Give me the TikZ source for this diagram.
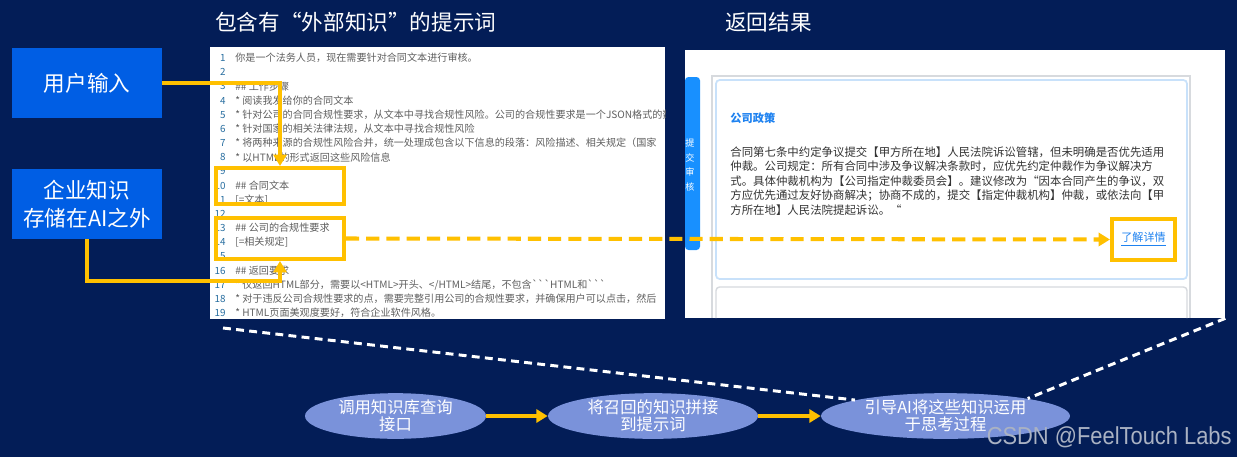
\documentclass[tikz,border=0pt]{standalone}
\usepackage{fontspec}
\newfontfamily\cjk{Noto Sans CJK SC}
\newfontfamily\wmfont[FakeStretch=0.89]{Liberation Sans}
\usetikzlibrary{arrows.meta,shapes.geometric}

\definecolor{bgnavy}{RGB}{3,29,87}
\definecolor{boxblue}{RGB}{0,94,228}
\definecolor{hiyellow}{RGB}{255,192,0}
\definecolor{ovalblue}{RGB}{122,146,218}
\definecolor{tabblue}{RGB}{24,144,255}
\definecolor{codegray}{RGB}{95,95,95}
\definecolor{numteal}{RGB}{40,110,160}
\definecolor{linkblue}{RGB}{30,130,240}
\definecolor{cardedge}{RGB}{200,225,250}
\definecolor{framegray}{RGB}{215,218,222}
\definecolor{wmgray}{RGB}{170,178,195}

\tikzset{
  srcbox/.style={fill=boxblue, text=white, minimum width=3cm, minimum height=1.4cm,
    inner sep=0pt, align=center, font=\cjk\fontsize{12.3}{15.9}\selectfont},
  hilite/.style={draw=hiyellow, line width=2.3pt, inner sep=0pt},
  feed/.style={draw=hiyellow, line width=2.3pt, -{Triangle[length=6.5pt,width=7.5pt]}},
  stepoval/.style={ellipse, fill=ovalblue, text=white, minimum height=0.84cm,
    inner sep=0pt, align=center, font=\cjk\fontsize{9.3}{9.8}\selectfont},
  codeline/.style={anchor=west, inner sep=0pt, text=codegray, font=\cjk\fontsize{5.75}{6}\selectfont},
  lineno/.style={anchor=east, inner sep=0pt, text=numteal, font=\cjk\fontsize{5.6}{6}\selectfont},
  cardline/.style={anchor=west, inner sep=0pt, text=black!80, font=\cjk\fontsize{6.5}{7}\selectfont},
  heading/.style={anchor=west, inner sep=0pt, text=white, font=\cjk\fontsize{12.3}{14}\selectfont},
}

\begin{document}
\begin{tikzpicture}[x=0.02cm,y=-0.02cm]

\useasboundingbox (0,0) rectangle (1237,457);
\fill[bgnavy] (0,0) rectangle (1237,457);

% titles
\node[heading] (ttlprompt) at (215,22) {包含有“外部知识”的提示词};
\node[heading] (ttlresult) at (725,22) {返回结果};

% sources on the left
\node[srcbox] (user) at (87,83) {用户输入};
\node[srcbox] (know) at (87,204) {企业知识\\存储在AI之外};

% prompt editor
\node[fill=white, minimum width=9.1cm, minimum height=5.44cm, inner sep=0pt] (prompt) at (437.5,183) {};
\begin{scope}
\clip (210,47) rectangle (665,319);
\foreach \n in {1,...,19}
  \node[lineno] at (226,{58+(\n-1)*14.17}) {\n};
\foreach \n/\txt in {
  1/{你是一个法务人员，现在需要针对合同文本进行审核。},
  3/{\#\# 工作步骤},
  4/{* 阅读我发给你的合同文本},
  5/{* 针对公司的合同合规性要求，从文本中寻找合规性风险。公司的合规性要求是一个JSON格式的数据},
  6/{* 针对国家的相关法律法规，从文本中寻找合规性风险},
  7/{* 将两种来源的合规性风险合并，统一处理成包含以下信息的段落：风险描述、相关规定（国家},
  8/{* 以HTML的形式返回这些风险信息},
  10/{\#\# 合同文本},
  11/{[=文本]},
  13/{\#\# 公司的合规性要求},
  14/{[=相关规定]},
  16/{\#\# 返回要求},
  17/{* 仅返回HTML部分，需要以<HTML>开头、</HTML>结尾，不包含\textasciigrave\textasciigrave\textasciigrave HTML和\textasciigrave\textasciigrave\textasciigrave},
  18/{* 对于违反公司合规性要求的点，需要完整引用公司的合规性要求，并确保用户可以点击，然后},
  19/{* HTML页面美观度要好，符合企业软件风格。}}
  \node[codeline] at (235,{58+(\n-1)*14.17}) {\txt};
\end{scope}

\node[hilite, minimum width=2.56cm, minimum height=0.72cm] (ctxbox) at (280,186) {};
\node[hilite, minimum width=2.56cm, minimum height=0.82cm] (rulebox) at (280,238.5) {};

% returned result
\node[fill=white, minimum width=10.8cm, minimum height=5.36cm, inner sep=0pt] (answer) at (955,184) {};
\fill[tabblue, rounded corners=2pt] (685,77) rectangle (700,250);
\node[text=white, align=center, inner sep=0pt, font=\cjk\fontsize{5.2}{8.5}\selectfont] (submit) at (690,165) {提\\交\\审\\核};
\draw[framegray, line width=0.6pt] (712,318) -- (712,76) -- (1190,76) -- (1190,318);
\node[draw=cardedge, line width=1pt, fill=white, rounded corners=2pt, minimum width=9.42cm,
  minimum height=3.98cm, inner sep=0pt] (policy) at (951.5,179.5) {};
\draw[framegray, line width=0.8pt, rounded corners=2pt] (716,318) -- (716,287) -- (1187,287) -- (1187,318);
\node[anchor=west, inner sep=0pt, text=linkblue, font=\cjk\bfseries\fontsize{6.4}{7}\selectfont] (policyttl) at (730,118) {公司政策};
\foreach \i/\txt in {
  1/{合同第七条中约定争议提交【甲方所在地】人民法院诉讼管辖，但未明确是否优先适用},
  2/{仲裁。公司规定：所有合同中涉及争议解决条款时，应优先约定仲裁作为争议解决方},
  3/{式。具体仲裁机构为【公司指定仲裁委员会】。建议修改为“因本合同产生的争议，双},
  4/{方应优先通过友好协商解决；协商不成的，提交【指定仲裁机构】仲裁，或依法向【甲},
  5/{方所在地】人民法院提起诉讼。“}}
  \node[cardline] at (730,{152+(\i-1)*14.5}) {\txt};
\node[hilite, minimum width=1.26cm, minimum height=0.82cm, text=linkblue,
  font=\cjk\fontsize{6.3}{7}\selectfont] (more) at (1143.5,239.5) {\underline{了解详情}};

% yellow connectors
\coordinate (kbend) at (280,281);
\draw[feed] (user.east) -| (ctxbox.north);
\draw[feed] (know.south) |- (kbend) -- (rulebox.south);
\draw[feed, dash pattern=on 7.5pt off 4pt] (rulebox.east) -- (more.west);

% steps below
\node[stepoval, minimum width=3.62cm] (recall) at (395.5,416) {调用知识库查询\\接口};
\node[stepoval, minimum width=4.2cm] (splice) at (653,416) {将召回的知识拼接\\到提示词};
\node[stepoval, minimum width=4.98cm] (guide) at (945.5,416) {引导AI将这些知识运用\\于思考过程};
\draw[feed] (recall) -- (splice);
\draw[feed] (splice) -- (guide);

\coordinate (promptfoot) at (223,328);
\draw[white, line width=1.7pt, dash pattern=on 4.5pt off 3pt] (promptfoot) -- (guide.170);
\draw[white, line width=1.7pt, dash pattern=on 4.5pt off 3pt] (answer.south east) -- (guide.12);

\node[anchor=east, inner sep=0pt, text=wmgray, font=\wmfont\fontsize{14}{16}\selectfont] (mark) at (1232,437) {CSDN @FeelTouch Labs};

\end{tikzpicture}
\end{document}
